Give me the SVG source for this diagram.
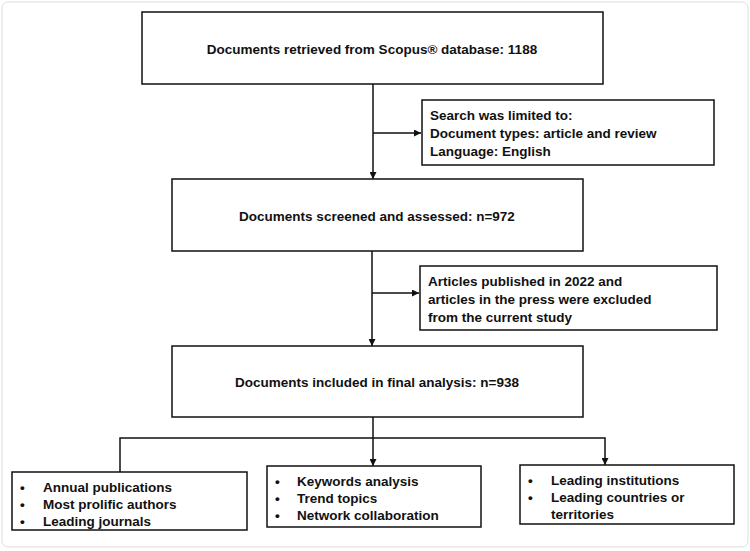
<svg xmlns="http://www.w3.org/2000/svg" width="750" height="551" viewBox="0 0 750 551">
<style>
.b{fill:#fff;stroke:#111;stroke-width:1.5}
.t{font-family:"Liberation Sans",Arial,sans-serif;font-weight:bold;font-size:13.5px;fill:#111}
.c{fill:none;stroke:#111;stroke-width:1.5}
</style>
<defs><marker id="a" viewBox="0 0 10 10" refX="10" refY="5" markerWidth="7" markerHeight="7" orient="auto" markerUnits="userSpaceOnUse"><path d="M0,0L10,5L0,10z" fill="#111"/></marker></defs>
<rect x="2" y="2" width="746" height="545" rx="6" fill="#fff" stroke="#ddd"/>
<g id="connectors" class="c">
<line x1="373" y1="84" x2="373" y2="179" marker-end="url(#a)"/>
<line x1="373" y1="133" x2="421" y2="133" marker-end="url(#a)"/>
<line x1="372" y1="251" x2="372" y2="346" marker-end="url(#a)"/>
<line x1="372" y1="293" x2="419" y2="293" marker-end="url(#a)"/>
<line x1="373" y1="417" x2="373" y2="466" marker-end="url(#a)"/>
<polyline points="120,472 120,438 605,438 605,465" marker-end="url(#a)"/>
</g>
<g id="n1"><rect class="b" x="142" y="12" width="461" height="72"/><text class="t" x="372" y="54" text-anchor="middle">Documents retrieved from Scopus® database: 1188</text></g>
<g id="n2"><rect class="b" x="422" y="100" width="292" height="65"/><text class="t" x="430" y="120">Search was limited to:</text><text class="t" x="430" y="138">Document types: article and review</text><text class="t" x="430" y="156">Language: English</text></g>
<g id="n3"><rect class="b" x="172" y="179" width="411" height="72"/><text class="t" x="377" y="221" text-anchor="middle">Documents screened and assessed: n=972</text></g>
<g id="n4"><rect class="b" x="420" y="266" width="297" height="64"/><text class="t" x="428" y="286">Articles published in 2022 and</text><text class="t" x="428" y="304">articles in the press were excluded</text><text class="t" x="428" y="322">from the current study</text></g>
<g id="n5"><rect class="b" x="172" y="346" width="411" height="71"/><text class="t" x="377" y="387" text-anchor="middle">Documents included in final analysis: n=938</text></g>
<g id="n6"><rect class="b" x="12" y="472" width="235" height="58"/><text class="t" x="20" y="492">•</text><text class="t" x="43" y="492">Annual publications</text><text class="t" x="20" y="509">•</text><text class="t" x="43" y="509">Most prolific authors</text><text class="t" x="20" y="526">•</text><text class="t" x="43" y="526">Leading journals</text></g>
<g id="n7"><rect class="b" x="267" y="466" width="214" height="61"/><text class="t" x="275" y="486">•</text><text class="t" x="297" y="486">Keywords analysis</text><text class="t" x="275" y="503">•</text><text class="t" x="297" y="503">Trend topics</text><text class="t" x="275" y="520">•</text><text class="t" x="297" y="520">Network collaboration</text></g>
<g id="n8"><rect class="b" x="520" y="465" width="214" height="59"/><text class="t" x="528" y="485">•</text><text class="t" x="551" y="485">Leading institutions</text><text class="t" x="528" y="502">•</text><text class="t" x="551" y="502">Leading countries or</text><text class="t" x="551" y="519">territories</text></g>
</svg>
